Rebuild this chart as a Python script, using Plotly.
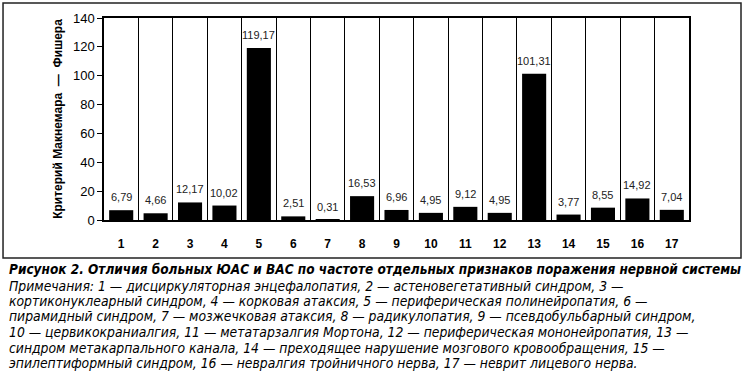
import plotly.graph_objects as go

categories = [str(i) for i in range(1, 18)]
values = [6.79, 4.66, 12.17, 10.02, 119.17, 2.51, 0.31, 16.53, 6.96, 4.95,
          9.12, 4.95, 101.31, 3.77, 8.55, 14.92, 7.04]
y_ticks = [0, 20, 40, 60, 80, 100, 120, 140]
y_title = "Критерий Макнемара  —  Фишера"
caption = "Рисунок 2. Отличия больных ЮАС и ВАС по частоте отдельных признаков поражения нервной системы"
notes_lines = [
    "Примечания: 1 — дисциркуляторная энцефалопатия, 2 — астеновегетативный синдром, 3 —",
    "кортиконуклеарный синдром, 4 — корковая атаксия, 5 — периферическая полинейропатия, 6 —",
    "пирамидный синдром, 7 — мозжечковая атаксия, 8 — радикулопатия, 9 — псевдобульбарный синдром,",
    "10 — цервикокраниалгия, 11 — метатарзалгия Мортона, 12 — периферическая мононейропатия, 13 —",
    "синдром метакарпального канала, 14 — преходящее нарушение мозгового кровообращения, 15 —",
    "эпилептиформный синдром, 16 — невралгия тройничного нерва, 17 — неврит лицевого нерва.",
]

labels = [f"{v:.2f}".replace(".", ",") for v in values]

fig = go.Figure()
fig.add_trace(go.Bar(x=categories, y=values, marker=dict(color="black", line=dict(width=0)),
                     hoverinfo="skip"))

for i, (v, t) in enumerate(zip(values, labels)):
    fig.add_annotation(x=i, y=v, text=t, showarrow=False, yanchor="bottom", yshift=5,
                       font=dict(family="Arial, Liberation Sans", size=11, color="#222"))

narrow = "DejaVu Sans Condensed, Liberation Sans Narrow, sans-serif"
fig.add_annotation(xref="paper", yref="paper", x=-0.1641, y=-0.2426, xanchor="left", yanchor="middle",
                   text="<b><i>" + caption + "</i></b>", showarrow=False, align="left", borderpad=0,
                   font=dict(family=narrow, size=13.5, color="black"))
note_y = [-0.3243, -0.4010, -0.4777, -0.5545, -0.6312, -0.7079]
for line, yy in zip(notes_lines, note_y):
    fig.add_annotation(xref="paper", yref="paper", x=-0.1641, y=yy, xanchor="left", yanchor="middle",
                       text="<i>" + line + "</i>", showarrow=False, align="left", borderpad=0,
                       font=dict(family=narrow, size=13.8, color="black"))

# outer frame
fig.add_shape(type="rect", xref="paper", yref="paper", x0=-0.1726, x1=1.0889, y0=-0.188, y1=1.0743,
              line=dict(color="#222", width=1.5), fillcolor="rgba(0,0,0,0)", layer="below")

fig.update_layout(
    width=748, height=372,
    margin=dict(l=104, r=59, t=18, b=152),
    paper_bgcolor="white", plot_bgcolor="white",
    bargap=0.3, showlegend=False,
    font=dict(family="Arial, Liberation Sans", color="black"),
)
fig.update_xaxes(type="category", tickson="boundaries", showgrid=True, gridcolor="black", gridwidth=1,
                 showline=True, linecolor="black", linewidth=1.5, mirror=True, ticks="",
                 tickfont=dict(size=12, family="Arial, Liberation Sans"),
                 tickprefix="<b>", ticksuffix="</b>", ticklabelstandoff=12)
fig.update_yaxes(range=[0, 140], tickvals=y_ticks, showgrid=False, zeroline=False,
                 showline=True, linecolor="black", linewidth=1.5, mirror=True,
                 ticks="outside", ticklen=5, tickcolor="black",
                 tickprefix="<b>", ticksuffix="</b>",
                 tickfont=dict(size=13, family="Arial, Liberation Sans"),
                 title=dict(text="<b>" + y_title + "</b>", font=dict(size=12), standoff=8))

fig.write_html("out.html", config={"displayModeBar": False},
               post_script="document.body.style.margin='0';")
